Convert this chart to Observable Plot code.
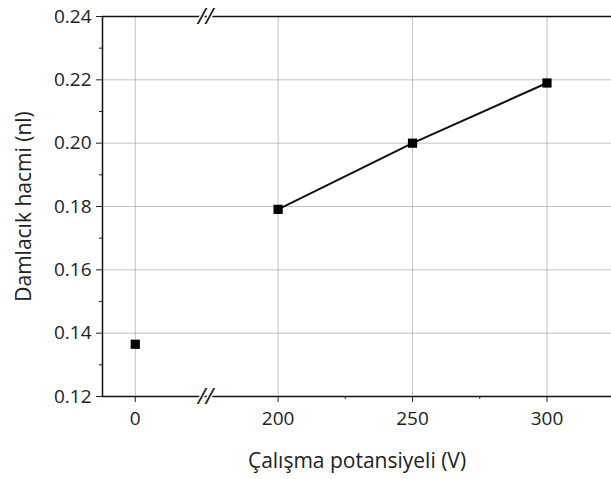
<!DOCTYPE html>
<html><head><meta charset="utf-8">
<script src="https://cdn.jsdelivr.net/npm/d3@7"></script>
<script src="https://cdn.jsdelivr.net/npm/@observablehq/plot@0.6"></script>
<style>body{margin:0;background:#fff}</style>
</head><body><div id="chart"></div>
<script>
const voltage = [0, 200, 250, 300];
const volume = [0.1365, 0.1791, 0.2000, 0.2190];
const lineVoltage = [200, 250, 300];
const xTicks = [0, 200, 250, 300];
const xMinor = [225, 275];
const yTicks = [0.12, 0.14, 0.16, 0.18, 0.20, 0.22, 0.24];
const yMinor = [0.13, 0.15, 0.17, 0.19, 0.21, 0.23];
const breakAt = [100];
const xTitle = "Çalışma potansiyeli (V)";
const yTitle = "Damlacık hacmi (nl)";

const pts = voltage.map((v, i) => ({v, y: volume[i]}));
const linePts = pts.filter(d => lineVoltage.includes(d.v));
const font = "Open Sans, sans-serif";

const chart = Plot.plot({
  width: 611, height: 479,
  marginLeft: 102, marginRight: 0, marginTop: 16, marginBottom: 83,
  style: {fontFamily: font, fontSize: "19px", color: "#222", background: "#fff"},
  x: {type: "linear", domain: [-12, 25.7, 173, 324], range: [102, 205, 205, 611], nice: false},
  y: {domain: [0.12, 0.24], range: [396, 16], nice: false},
  marks: [
    Plot.gridX(xTicks, {stroke: "#999", strokeOpacity: 0.6, strokeWidth: 1}),
    Plot.gridY(yTicks.slice(1, -1), {stroke: "#999", strokeOpacity: 0.6, strokeWidth: 1}),
    Plot.ruleY([0.12, 0.24], {stroke: "#111", strokeWidth: 1.5}),
    Plot.ruleX([-12], {stroke: "#111", strokeWidth: 1.5}),
    Plot.axisY({ticks: yTicks, tickFormat: d3.format(".2f"), tickSize: 6, tickPadding: 5, label: null, fontSize: 19}),
    Plot.axisY({ticks: yMinor, tickSize: 3, tickFormat: null, text: null, label: null}),
    Plot.axisX({ticks: xTicks, tickFormat: d => d, tickSize: 6, tickPadding: 9, label: null, fontSize: 19}),
    Plot.axisX({ticks: xMinor, tickSize: 3, text: null, label: null}),
    Plot.text(breakAt, {x: d => d, y: 0.24, text: () => "//", fontSize: 22, fontStyle: "italic", fill: "#111", stroke: "white", strokeWidth: 3}),
    Plot.text(breakAt, {x: d => d, y: 0.12, text: () => "//", fontSize: 22, fontStyle: "italic", fill: "#111", stroke: "white", strokeWidth: 3}),
    Plot.line(linePts, {x: "v", y: "y", stroke: "#111", strokeWidth: 2}),
    Plot.dot(pts, {x: "v", y: "y", symbol: "square", fill: "#000", r: 5.2}),
    Plot.text([xTitle], {frameAnchor: "bottom", dy: 71, text: d => d, fontSize: 21, fill: "#222"}),
    Plot.text([yTitle], {frameAnchor: "left", textAnchor: "middle", dx: -78, rotate: -90, text: d => d, fontSize: 21, fill: "#222"})
  ]
});
document.getElementById("chart").appendChild(chart);
</script>
</body></html>
